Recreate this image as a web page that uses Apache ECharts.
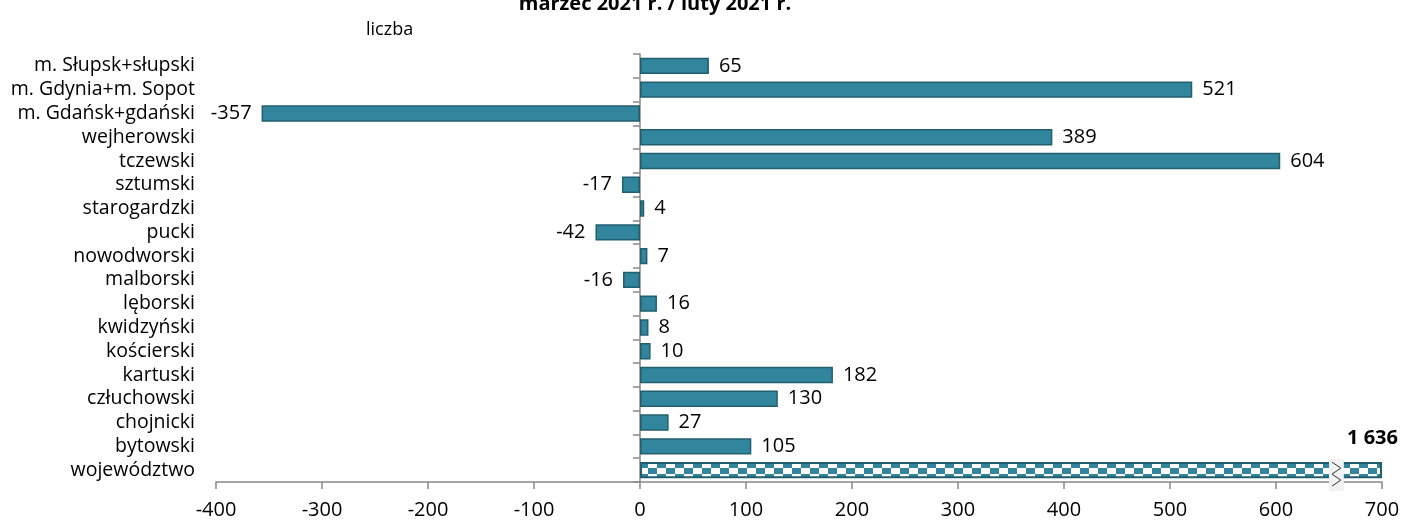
<!DOCTYPE html>
<html>
<head>
<meta charset="utf-8">
<script src="https://cdn.jsdelivr.net/npm/echarts@6/dist/echarts.min.js"></script>
<style>
html,body{margin:0;padding:0;background:#fff;}
#chart{width:1416px;height:525px;}
</style>
</head>
<body>
<div id="chart"></div>
<script>
// Data (bottom to top, as drawn on the category axis)
const categories = ['województwo','bytowski','chojnicki','człuchowski','kartuski','kościerski','kwidzyński','lęborski','malborski','nowodworski','pucki','starogardzki','sztumski','tczewski','wejherowski','m. Gdańsk+gdański','m. Gdynia+m. Sopot','m. Słupsk+słupski'];
const values = [1636,105,27,130,182,10,8,16,-16,7,-42,4,-17,604,389,-357,521,65];
const xTicks = [-400,-300,-200,-100,0,100,200,300,400,500,600,700];
const titleText = 'marzec 2021 r. / luty 2021 r.';
const unitText = 'liczba';

const FONT = '"Open Sans", "Noto Sans", sans-serif';
const TEAL = '#31859C';
const EDGE = '#215F6E';
const xMin = xTicks[0], xMax = xTicks[xTicks.length - 1];
const totalIndex = 0;

// checker pattern for the voivodeship total
const pc = document.createElement('canvas');
pc.width = 18; pc.height = 12;
const pctx = pc.getContext('2d');
pctx.fillStyle = '#fff'; pctx.fillRect(0, 0, 18, 12);
pctx.fillStyle = TEAL;
pctx.fillRect(0, 0, 9, 6);
pctx.fillRect(9, 6, 9, 6);

const seriesData = values.map((v, i) => {
  const shown = Math.max(Math.min(v, xMax), xMin);
  const item = { value: shown, real: v };
  if (i === totalIndex) {
    item.itemStyle = { color: { image: pc, repeat: 'repeat' }, borderColor: EDGE, borderWidth: 2 };
    item.label = {
      position: 'right', offset: [-45, -32], fontWeight: 'bold', fontSize: 20,
      formatter: p => String(p.data.real).replace(/\B(?=(\d{3})+(?!\d))/g, ' ')
    };
  } else {
    item.label = { position: v < 0 ? 'left' : 'right' };
  }
  return item;
});

const chart = echarts.init(document.getElementById('chart'), null, { renderer: 'canvas' });
chart.setOption({
  animation: false,
  backgroundColor: '#fff',
  title: [
    { text: titleText, left: 650, textAlign: 'center', top: -11,
      textStyle: { fontFamily: FONT, fontWeight: 'bold', fontSize: 20, color: '#000' } },
    { text: unitText, left: 361, top: 16,
      textStyle: { fontFamily: FONT, fontWeight: 'normal', fontSize: 18, color: '#000' } }
  ],
  grid: { left: 216, right: 34, top: 54, bottom: 43, containLabel: false },
  xAxis: {
    type: 'value', min: xMin, max: xMax, interval: 100,
    axisLine: { show: true, onZero: false, lineStyle: { color: '#888', width: 1.5 } },
    axisTick: { show: true, length: 7, lineStyle: { color: '#888', width: 1.5 } },
    axisLabel: { fontFamily: FONT, fontSize: 20, color: '#000', margin: 18 },
    splitLine: { show: false }
  },
  yAxis: [
    {
      type: 'category', data: categories, position: 'left',
      axisLine: { show: false, onZero: false }, axisTick: { show: false },
      axisLabel: { interval: 0, fontFamily: FONT, fontSize: 19.5, color: '#000', margin: 21 }
    },
    {
      type: 'category', data: categories, position: 'left',
      axisLine: { show: true, onZero: true, onZeroAxisIndex: 0, lineStyle: { color: '#888', width: 1.5 } },
      axisTick: { show: true, interval: 0, length: 7, lineStyle: { color: '#888', width: 1.5 } },
      axisLabel: { show: false }
    }
  ],
  series: [{
    type: 'bar', yAxisIndex: 0, data: seriesData, barCategoryGap: '31%',
    itemStyle: { color: TEAL, borderColor: EDGE, borderWidth: 1.5 },
    label: { show: true, fontFamily: FONT, fontSize: 20, color: '#000', distance: 10,
      formatter: p => String(p.data.real) },
    clip: true
  }]
});

// axis break marker on the total bar, positioned through the chart's scales
function drawBreak() {
  const a = chart.convertToPixel({ xAxisIndex: 0, yAxisIndex: 0 }, [650, categories[totalIndex]]);
  const b = chart.convertToPixel({ xAxisIndex: 0, yAxisIndex: 0 }, [664, categories[totalIndex]]);
  const x0 = a[0], x1 = b[0], yc = a[1];
  const h = 32, w = x1 - x0;
  chart.setOption({
    graphic: [
      { type: 'rect', shape: { x: x0, y: yc - h / 2 + 5, width: w, height: h },
        style: { fill: '#F2F2F2' }, z: 100 },
      { type: 'polyline', shape: { points: [
          [x0 + 3, yc - 8], [x0 + w - 3, yc - 2], [x0 + 3, yc + 4], [x0 + w - 3, yc + 10], [x0 + 3, yc + 16]
        ] }, style: { stroke: '#333', lineWidth: 1, fill: null }, z: 101 }
    ]
  });
}
drawBreak();
</script>
</body>
</html>
